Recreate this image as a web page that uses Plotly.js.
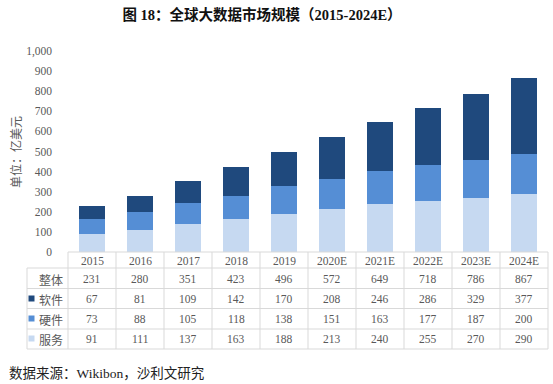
<!DOCTYPE html>
<html>
<head>
<meta charset="utf-8">
<script src="https://cdn.plot.ly/plotly-3.0.1.min.js"></script>
<style>html,body{margin:0;padding:0;background:#fff;}#chart{width:553px;height:384px;}</style>
</head>
<body>
<div id="chart"></div>
<script>
const years = ["2015","2016","2017","2018","2019","2020E","2021E","2022E","2023E","2024E"];
const total = [231,280,351,423,496,572,649,718,786,867];
const software = [67,81,109,142,170,208,246,286,329,377];
const hardware = [73,88,105,118,138,151,163,177,187,200];
const service = [91,111,137,163,188,213,240,255,270,290];
const rowNames = ["整体","软件","硬件","服务"];
const yTicks = [0,100,200,300,400,500,600,700,800,900,1000];
const yTickText = ["0","100","200","300","400","500","600","700","800","900","1,000"];

const W = 553, H = 384;
const L = 68, R = 548, T = 51, B = 252;
const px2x = p => (p - L) / (R - L);
const py2y = p => (B - p) / (B - T);

const cDark = "#1F497D", cMid = "#558ED5", cLight = "#C6D9F1";
const grid = "#D9D9D9", txt = "#595959";
const serif = "Liberation Serif, Times New Roman, serif";
const cjk = "Noto Sans CJK SC, sans-serif";

const traces = [
  {type:"bar", x:years, y:service, name:"服务", marker:{color:cLight}, hoverinfo:"none"},
  {type:"bar", x:years, y:hardware, name:"硬件", marker:{color:cMid}, hoverinfo:"none"},
  {type:"bar", x:years, y:software, name:"软件", marker:{color:cDark}, hoverinfo:"none"}
];

const shapes = [];
const ann = [];
// horizontal lines
const hLines = [[252, L], [268, 27], [288.5, 27], [308.5, 27], [329, 27], [349, 27]];
hLines.forEach(([py, x0]) => {
  shapes.push({type:"line", xref:"paper", yref:"paper", x0:px2x(x0), x1:px2x(R), y0:py2y(py), y1:py2y(py), line:{color:grid, width:1}});
});
// vertical lines
for (let k = 0; k <= years.length; k++) {
  const px = L + (R - L) / years.length * k;
  shapes.push({type:"line", xref:"paper", yref:"paper", x0:px2x(px), x1:px2x(px), y0:py2y(252), y1:py2y(349), line:{color:grid, width:1}});
}
shapes.push({type:"line", xref:"paper", yref:"paper", x0:px2x(27), x1:px2x(27), y0:py2y(268), y1:py2y(349), line:{color:grid, width:1}});

// header row and value rows
const rowY = [261, 279, 299, 319, 339];
const rows = [total, software, hardware, service];
const base = {showarrow:false, xanchor:"center", yanchor:"middle"};
years.forEach((yr, i) => {
  ann.push(Object.assign({}, base, {x:i, xref:"x", y:py2y(rowY[0]), yref:"paper", text:yr, font:{family:serif, size:11.5, color:txt}}));
  rows.forEach((r, j) => {
    ann.push(Object.assign({}, base, {x:i, xref:"x", y:py2y(rowY[j+1]), yref:"paper", text:String(r[i]), font:{family:serif, size:11.5, color:txt}}));
  });
});
// row labels
rowNames.forEach((n, j) => {
  ann.push(Object.assign({}, base, {x:px2x(65), xref:"paper", xanchor:"right", y:py2y(rowY[j+1]), yref:"paper", text:n, font:{family:cjk, size:12, color:txt}}));
});
// legend squares
[cDark, cMid, cLight].forEach((c, j) => {
  const cy = rowY[j+2] - 0.5;
  shapes.push({type:"rect", xref:"paper", yref:"paper", x0:px2x(28.5), x1:px2x(34.5), y0:py2y(cy+3), y1:py2y(cy-3), fillcolor:c, line:{width:0}});
});
// y axis title
ann.push(Object.assign({}, base, {x:px2x(15), xref:"paper", y:py2y(152), yref:"paper", text:"单位：亿美元", textangle:-90, font:{family:cjk, size:12, color:txt}}));
// source
ann.push(Object.assign({}, base, {x:px2x(7), xref:"paper", xanchor:"left", y:py2y(373), yref:"paper", text:"数据来源：Wikibon，沙利文研究", font:{family:"Liberation Serif, Noto Sans CJK SC, serif", size:13.5, color:"#222"}}));

const layout = {
  width:W, height:H,
  margin:{l:L, r:W-R, t:T, b:H-B, pad:0},
  paper_bgcolor:"#fff", plot_bgcolor:"#fff",
  barmode:"stack", bargap:0.44,
  showlegend:false,
  title:{text:"<b>图 18：全球大数据市场规模（2015-2024E）</b>", x:262/W, xref:"container", xanchor:"center", y:1-15/H, yref:"container", yanchor:"middle", font:{family:"Liberation Serif, Noto Sans CJK SC, serif", size:14.5, color:"#111"}},
  xaxis:{type:"category", categoryorder:"array", categoryarray:years, range:[-0.5, years.length-0.5], showticklabels:false, showgrid:false, zeroline:false, showline:false, ticks:"", fixedrange:true},
  yaxis:{range:[0,1000], tickvals:yTicks, ticktext:yTickText, showgrid:false, zeroline:false, showline:false, ticks:"", ticklabelstandoff:15, tickfont:{family:serif, size:11.5, color:txt}, fixedrange:true},
  shapes:shapes,
  annotations:ann
};
Plotly.newPlot("chart", traces, layout, {displayModeBar:false, staticPlot:true});
</script>
</body>
</html>
